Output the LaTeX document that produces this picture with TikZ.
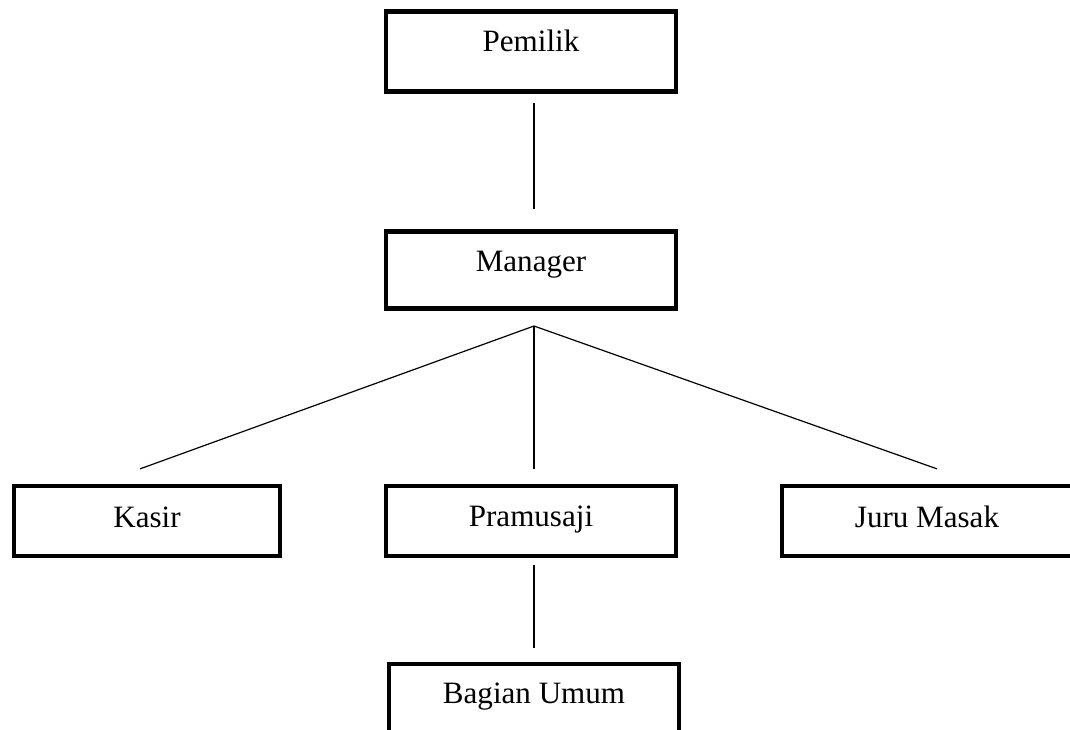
\documentclass[tikz,border=0pt]{standalone}
\usepackage{fontspec}
\setmainfont{Liberation Serif}
\begin{document}
\begin{tikzpicture}[x=0.75pt, y=-0.75pt,
    jabatan/.style={draw, line width=3.2pt, inner sep=0pt, minimum width=217.5pt,
                    minimum height=52.5pt, text depth=0pt, text height=9pt,
                    font=\fontsize{23.3}{28}\selectfont},
    garis/.style={line width=1.3pt},
    cabang/.style={line width=0.9pt}]

      % Definitions
      \def\gapatas{7pt}    % Gap between a box and the line below it
      \def\gapbawah{15pt}  % Gap between a line and the box below it

      \useasboundingbox (0,0) rectangle (1070,729);
      \clip (0,0) rectangle (1070,729);

      % Boxes
      \node [jabatan, minimum height=60pt, text height=0.5pt] (pemilik) at (531,51.6) {Pemilik};
      \node [jabatan, minimum height=57.75pt, text height=2.5pt] (manager) at (531,270) {Manager};
      \node [jabatan, minimum width=200pt] (kasir) at (147,521) {Kasir};
      \node [jabatan, text height=7.8pt] (pramusaji) at (531,521) {Pramusaji};
      \node [jabatan] (jurumasak) at (927,521) {Juru Masak};
      \node [jabatan, text height=6pt] (umum) at (534,699) {Bagian Umum};

      \coordinate (fork) at (534,326);   % Point where the three branches meet
      \coordinate (ujungKasir) at ([shift={(-7,-15)}]kasir.north);
      \coordinate (ujungJuru) at ([shift={(10,-15)}]jurumasak.north);

      % Draw commands
      \draw [garis, shorten <=\gapatas, shorten >=\gapbawah] (pemilik.south -| fork) -- (manager.north -| fork);

      \draw [cabang] (fork) -- (ujungKasir);
      \draw [cabang, shorten >=11pt] (fork) -- (pramusaji.north -| fork);
      \draw [cabang] (fork) -- (ujungJuru);

      \draw [garis, shorten <=5pt, shorten >=10.5pt] (pramusaji.south -| fork) -- (umum.north -| fork);

\end{tikzpicture}
\end{document}
